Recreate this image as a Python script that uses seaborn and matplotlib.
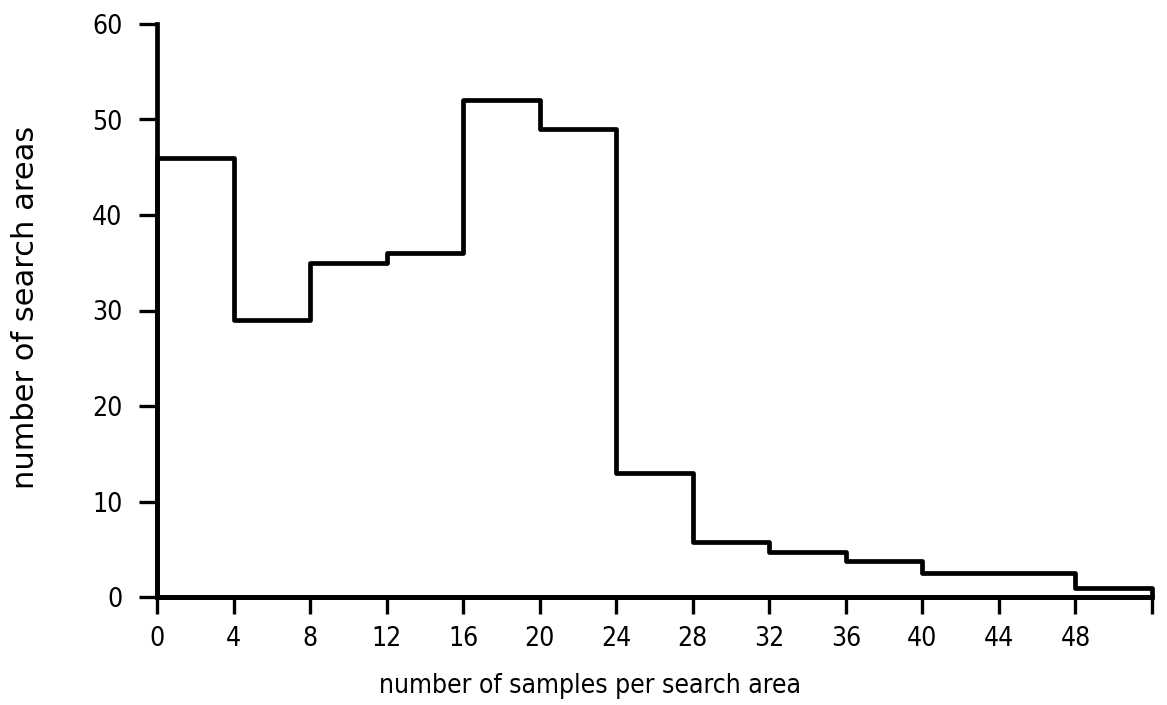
import numpy as np
import pandas as pd
import matplotlib
matplotlib.use("Agg")
import matplotlib.pyplot as plt
import seaborn as sns

# Data
bin_edges = [0, 4, 8, 12, 16, 20, 24, 28, 32, 36, 40, 44, 48, 52]
counts = [46, 29, 35, 36, 52, 49, 13, 5.8, 4.7, 3.8, 2.5, 2.5, 0.9]
x_tick_values = [0, 4, 8, 12, 16, 20, 24, 28, 32, 36, 40, 44, 48, 52]
x_tick_labels = ["0", "4", "8", "12", "16", "20", "24", "28", "32", "36", "40", "44", "48", ""]
y_tick_values = [0, 10, 20, 30, 40, 50, 60]

sns.set_theme(style="white")
plt.rcParams["font.family"] = ["DejaVu Sans"]
plt.rcParams["font.stretch"] = "condensed"

centers = [(a + b) / 2 for a, b in zip(bin_edges[:-1], bin_edges[1:])]
df = pd.DataFrame({"samples": centers, "areas": counts})

fig = plt.figure(figsize=(11.67, 7.05), dpi=100)
ax = fig.add_axes([157 / 1167, 1 - 597 / 705, (1152 - 157) / 1167, (597 - 24) / 705])

sns.histplot(data=df, x="samples", weights="areas", bins=bin_edges,
             element="step", fill=True, color="black", facecolor="none",
             edgecolor="black", linewidth=3.4, ax=ax)
for coll in ax.collections:
    coll.set_facecolor("none")
    coll.set_clip_on(False)

ax.set_xlim(0, 52)
ax.set_ylim(0, 60)

for s in ["top", "right"]:
    ax.spines[s].set_visible(False)
for s in ["left", "bottom"]:
    ax.spines[s].set_linewidth(3.4)
    ax.spines[s].set_color("black")

ax.set_xticks(x_tick_values)
ax.set_xticklabels(x_tick_labels)
ax.set_yticks(y_tick_values)
ax.tick_params(axis="x", direction="out", length=12, width=2.4, pad=9,
               labelsize=19, colors="black", bottom=True)
ax.tick_params(axis="y", direction="out", length=13, width=2.4, pad=12,
               labelsize=19, colors="black", left=True)

ax.set_xlabel("number of samples per search area", fontsize=19, color="black")
ax.set_ylabel("number of search areas", fontsize=22, color="black",
              fontstretch="normal")
ax.xaxis.set_label_coords(0.435, -0.133)
ax.yaxis.set_label_coords(-0.118, 0.505)
ax.grid(False)

fig.savefig("out.png", dpi=100, facecolor="white")
